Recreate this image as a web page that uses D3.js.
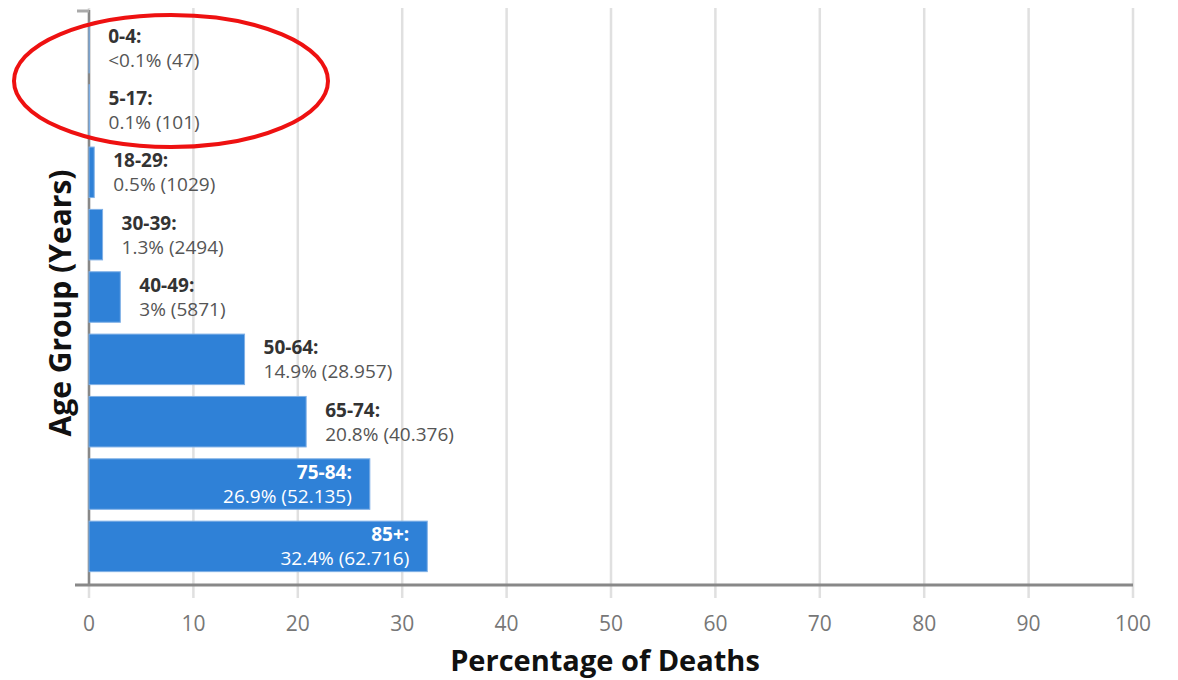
<!DOCTYPE html>
<html>
<head>
<meta charset="utf-8">
<script src="https://cdn.jsdelivr.net/npm/d3@7"></script>
<style>
  body { margin: 0; background: #fff; }
  svg text { font-family: "Open Sans", sans-serif; }
</style>
</head>
<body>
<div id="chart"></div>
<script>
// age groups, percentages and counts
const ageGroups = ["0-4", "5-17", "18-29", "30-39", "40-49", "50-64", "65-74", "75-84", "85+"];
const pctValues = [0.02, 0.05, 0.5, 1.3, 3, 14.9, 20.8, 26.9, 32.4];
const pctLabels = ["<0.1%", "0.1%", "0.5%", "1.3%", "3%", "14.9%", "20.8%", "26.9%", "32.4%"];
const deathCounts = ["47", "101", "1029", "2494", "5871", "28.957", "40.376", "52.135", "62.716"];
const xTicks = [0, 10, 20, 30, 40, 50, 60, 70, 80, 90, 100];

const width = 1178, height = 680;
const margin = {top: 10, right: 45, bottom: 95, left: 89};
const bottomY = height - margin.bottom;

const svg = d3.select("#chart").append("svg")
    .attr("width", width)
    .attr("height", height);

const x = d3.scaleLinear()
    .domain([0, 100])
    .range([margin.left, width - margin.right]);

const y = d3.scaleBand()
    .domain(ageGroups)
    .range([margin.top + 3, bottomY - 4])
    .paddingInner(0.19)
    .paddingOuter(0.15);

const data = ageGroups.map((g, i) => ({
    group: g, value: pctValues[i], pct: pctLabels[i], count: deathCounts[i]
}));

// vertical gridlines
svg.append("g").selectAll("line")
    .data(xTicks)
    .join("line")
    .attr("x1", d => x(d)).attr("x2", d => x(d))
    .attr("y1", margin.top - 2).attr("y2", bottomY + 13)
    .attr("stroke", "#e0e0e0")
    .attr("stroke-width", 2.5);

// tick labels
svg.append("g").selectAll("text")
    .data(xTicks)
    .join("text")
    .attr("x", d => x(d))
    .attr("y", bottomY + 46)
    .attr("text-anchor", "middle")
    .attr("font-size", 21)
    .attr("fill", "#777")
    .text(d => d);

// y axis line (under the bars) and its top tick
svg.append("line")
    .attr("x1", margin.left).attr("x2", margin.left)
    .attr("y1", margin.top).attr("y2", bottomY)
    .attr("stroke", "#888")
    .attr("stroke-width", 2.5);
svg.append("line")
    .attr("x1", margin.left - 12).attr("x2", margin.left)
    .attr("y1", margin.top + 1).attr("y2", margin.top + 1)
    .attr("stroke", "#aaa")
    .attr("stroke-width", 3);

// bars
svg.append("g").selectAll("rect")
    .data(data)
    .join("rect")
    .attr("x", x(0))
    .attr("y", d => y(d.group))
    .attr("width", d => x(d.value) - x(0))
    .attr("height", y.bandwidth())
    .attr("fill", "#2f81d7")
    .attr("stroke", "#7fb0e6")
    .attr("stroke-width", 1);

// x axis line
svg.append("line")
    .attr("x1", margin.left - 14).attr("x2", x(100))
    .attr("y1", bottomY).attr("y2", bottomY)
    .attr("stroke", "#888")
    .attr("stroke-width", 3);

// labels, inside the two longest bars, otherwise right of the bar
const inside = d => d.value > 25;
const labels = svg.append("g").selectAll("g")
    .data(data)
    .join("g")
    .attr("transform", d => {
        const cy = y(d.group) + y.bandwidth() / 2;
        const lx = inside(d) ? x(d.value) - 18 : x(d.value) + 19;
        return `translate(${lx},${cy})`;
    });

labels.append("text")
    .attr("y", -5)
    .attr("text-anchor", d => inside(d) ? "end" : "start")
    .attr("font-size", 19)
    .attr("font-weight", "bold")
    .attr("fill", d => inside(d) ? "#fff" : "#333")
    .text(d => d.group + ":");

labels.append("text")
    .attr("y", 19)
    .attr("text-anchor", d => inside(d) ? "end" : "start")
    .attr("font-size", 19)
    .attr("fill", d => inside(d) ? "#fff" : "#555")
    .text(d => `${d.pct} (${d.count})`);

// axis titles
svg.append("text")
    .attr("transform", "translate(71,303) rotate(-90)")
    .attr("text-anchor", "middle")
    .attr("font-size", 30)
    .attr("font-weight", "bold")
    .attr("fill", "#111")
    .text("Age Group (Years)");

svg.append("text")
    .attr("x", 605)
    .attr("y", 671)
    .attr("text-anchor", "middle")
    .attr("font-size", 29)
    .attr("font-weight", "bold")
    .attr("fill", "#111")
    .text("Percentage of Deaths");

// red annotation ellipse
svg.append("ellipse")
    .attr("cx", 171).attr("cy", 81)
    .attr("rx", 157).attr("ry", 66)
    .attr("fill", "none")
    .attr("stroke", "#ee1111")
    .attr("stroke-width", 4);
</script>
</body>
</html>
